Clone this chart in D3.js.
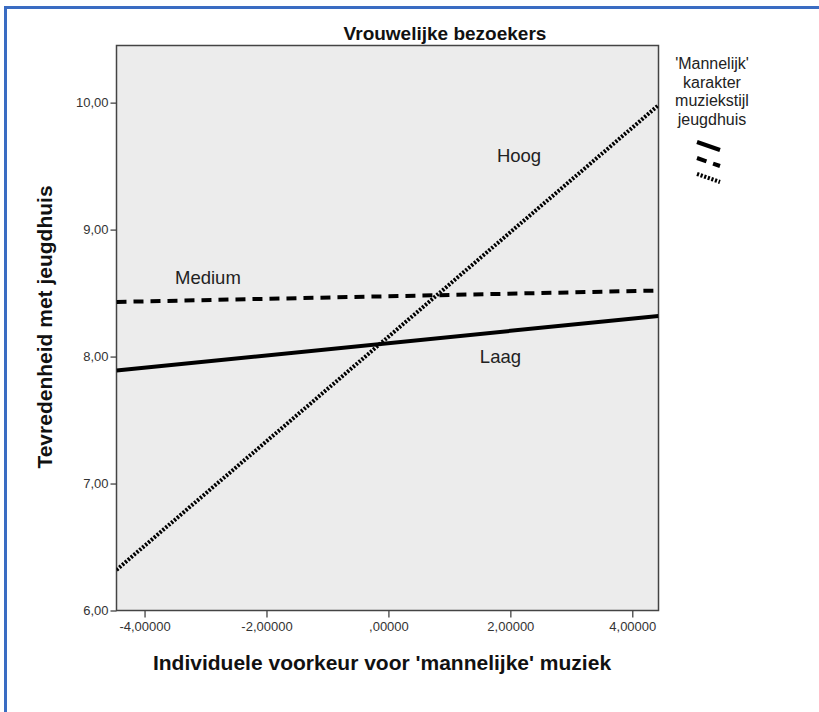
<!DOCTYPE html>
<html><head><meta charset="utf-8">
<script src="https://cdn.jsdelivr.net/npm/d3@7"></script>
<style>body{margin:0;background:#fff;} svg{display:block;}</style>
</head><body>
<svg id="c" width="819" height="712"></svg>
<script>
const xTicks = [-4, -2, 0, 2, 4];
const xTickLabels = ["-4,00000", "-2,00000", ",00000", "2,00000", "4,00000"];
const yTicks = [6, 7, 8, 9, 10];
const yTickLabels = ["6,00", "7,00", "8,00", "9,00", "10,00"];
const xEnds = [-4.46, 4.43];
const laag = [7.89, 8.32];
const medium = [8.43, 8.52];
const hoog = [6.32, 9.98];
const seriesNames = ["Laag", "Medium", "Hoog"];
const legendTitle = ["'Mannelijk'", "karakter", "muziekstijl", "jeugdhuis"];

const svg = d3.select("#c");
const L = 116.5, R = 658.5, T = 45.5, B = 610.5;
const x = d3.scaleLinear().domain([-4.46, 4.43]).range([L, R]);
const y = d3.scaleLinear().domain([6, 10.45]).range([B, T]);
const FONT = "Liberation Sans, Arial, sans-serif";
const NARROW = "Liberation Sans Narrow, Arial Narrow, Liberation Sans, sans-serif";

// blue frame
svg.append("line").attr("x1",5.5).attr("x2",5.5).attr("y1",7).attr("y2",712).attr("stroke","#3a6cc2").attr("stroke-width",3);
svg.append("line").attr("x1",4).attr("x2",819).attr("y1",7.5).attr("y2",7.5).attr("stroke","#3a6cc2").attr("stroke-width",3);

// plot area
svg.append("rect").attr("x",L).attr("y",T).attr("width",R-L).attr("height",B-T)
  .attr("fill","#ececec").attr("stroke","#444").attr("stroke-width",1.5);

// axes
const yAxis = d3.axisLeft(y).tickValues(yTicks).tickSize(6).tickPadding(2)
  .tickFormat((d,i)=>yTickLabels[i]);
const gy = svg.append("g").attr("transform",`translate(${L},0)`).call(yAxis);
gy.select(".domain").remove();
gy.selectAll("line").attr("stroke","#444").attr("stroke-width",1.3);
gy.selectAll("text").attr("font-family",FONT).attr("font-size",13).attr("fill","#333");

const xAxis = d3.axisBottom(x).tickValues(xTicks).tickSize(7).tickPadding(4)
  .tickFormat((d,i)=>xTickLabels[i]);
const gx = svg.append("g").attr("transform",`translate(0,${B})`).call(xAxis);
gx.select(".domain").remove();
gx.selectAll("line").attr("stroke","#444").attr("stroke-width",1.3);
gx.selectAll("text").attr("font-family",FONT).attr("font-size",13).attr("fill","#333");

// lines
const line = d3.line().x(d=>x(d[0])).y(d=>y(d[1]));
const styles = [
  {data: laag, dash: null},
  {data: medium, dash: "10,7"},
  {data: hoog, dash: "2.2,1.6"}
];
svg.append("clipPath").attr("id","pc").append("rect").attr("x",L).attr("y",T).attr("width",R-L).attr("height",B-T);
styles.forEach(s=>{
  svg.append("path").datum(xEnds.map((xv,i)=>[xv,s.data[i]]))
    .attr("d",line).attr("fill","none").attr("stroke","#000")
    .attr("stroke-width",4).attr("stroke-dasharray",s.dash)
    .attr("clip-path","url(#pc)");
});

// labels on lines
const lab = [
  {t: seriesNames[0], x: 1.5, y: 7.95},
  {t: seriesNames[1], x: -3.5, y: 8.57},
  {t: seriesNames[2], x: 1.78, y: 9.53}
];
lab.forEach(l=>{
  svg.append("text").attr("x",x(l.x)).attr("y",y(l.y)).text(l.t)
    .attr("font-family",FONT).attr("font-size",18.5).attr("fill","#222");
});

// title
svg.append("text").attr("x",445).attr("y",40).attr("text-anchor","middle")
  .attr("font-family",NARROW).attr("font-weight","bold")
  .attr("font-size",19).attr("fill","#111").text("Vrouwelijke bezoekers");

// axis titles
svg.append("text").attr("transform",`translate(52,327) rotate(-90)`).attr("text-anchor","middle")
  .attr("font-family",FONT).attr("font-weight","bold")
  .attr("font-size",21).attr("fill","#111").text("Tevredenheid met jeugdhuis");
svg.append("text").attr("x",382).attr("y",670).attr("text-anchor","middle")
  .attr("font-family",FONT).attr("font-weight","bold")
  .attr("font-size",21).attr("fill","#111").text("Individuele voorkeur voor 'mannelijke' muziek");

// legend
legendTitle.forEach((t,i)=>{
  svg.append("text").attr("x",712).attr("y",69+i*18.5).attr("text-anchor","middle")
    .attr("font-family",NARROW)
    .attr("font-size",16).attr("fill","#222").text(t);
});
styles.forEach((s,i)=>{
  svg.append("line").attr("x1",697).attr("y1",142+i*16).attr("x2",720).attr("y2",150+i*16)
    .attr("stroke","#000").attr("stroke-width",4).attr("stroke-dasharray",s.dash);
});
</script>
</body></html>
